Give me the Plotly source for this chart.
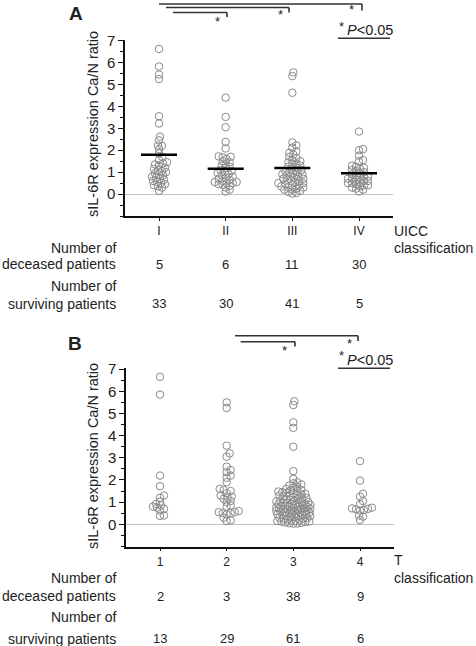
import plotly.graph_objects as go

W, H = 476, 646
FONT = "Liberation Sans, Arial, sans-serif"

# ---------------- data ----------------
uicc_labels = ["I", "II", "III", "IV"]
uicc_deceased = [5, 6, 11, 30]
uicc_surviving = [33, 30, 41, 5]
uicc_means = [1.79, 1.15, 1.19, 0.955]
uicc_I = [6.62, 5.82, 5.45, 5.25, 3.55, 3.22, 2.62, 2.45, 2.22, 2.2, 2.05, 1.85, 1.7, 1.55,
          1.45, 1.4, 1.35, 1.3, 1.2, 1.15, 1.1, 1.05, 1.0, 0.95, 0.9, 0.85, 0.8, 0.75, 0.7,
          0.65, 0.6, 0.55, 0.5, 0.45, 0.4, 0.35, 0.3, 0.15]
uicc_II = [4.4, 3.52, 3.05, 2.38, 2.08, 1.72, 1.7, 1.68, 1.6, 1.5, 1.45, 1.38, 1.3, 1.25,
           1.2, 1.1, 1.05, 1.0, 0.95, 0.9, 0.85, 0.8, 0.75, 0.7, 0.65, 0.6, 0.55, 0.55, 0.5,
           0.5, 0.45, 0.42, 0.38, 0.3, 0.2, 0.12]
uicc_III = [5.55, 5.38, 4.62, 2.35, 2.22, 2.12, 1.95, 1.88, 1.8, 1.7, 1.65, 1.55, 1.5, 1.45,
            1.4, 1.35, 1.3, 1.25, 1.2, 1.15, 1.1, 1.05, 1.0, 1.0, 0.95, 0.9, 0.9, 0.85, 0.8,
            0.8, 0.75, 0.7, 0.7, 0.65, 0.6, 0.6, 0.55, 0.5, 0.5, 0.45, 0.4, 0.4, 0.35, 0.3,
            0.3, 0.25, 0.2, 0.2, 0.15, 0.1, 0.05, 0.02]
uicc_IV = [2.85, 2.05, 2.0, 1.75, 1.55, 1.5, 1.3, 1.25, 1.2, 1.15, 1.1, 1.05, 1.0, 0.95,
           0.9, 0.85, 0.8, 0.8, 0.75, 0.7, 0.7, 0.65, 0.6, 0.6, 0.55, 0.5, 0.5, 0.45, 0.4,
           0.4, 0.35, 0.3, 0.25, 0.2, 0.12]

t_labels = ["1", "2", "3", "4"]
t_deceased = [2, 3, 38, 9]
t_surviving = [13, 29, 61, 6]
t_1 = [6.65, 5.85, 2.2, 1.72, 1.3, 1.2, 1.02, 0.92, 0.85, 0.8, 0.75, 0.7, 0.62, 0.4, 0.38]
t_2 = [5.5, 5.25, 3.55, 3.2, 3.05, 2.6, 2.45, 2.35, 2.2, 2.1, 1.9, 1.6, 1.55, 1.5, 1.4,
       1.3, 1.25, 1.2, 1.15, 1.05, 1.0, 0.85, 0.8, 0.6, 0.55, 0.55, 0.5, 0.5, 0.45, 0.3,
       0.18, 0.15]
t_3 = [5.55, 5.38, 4.6, 4.35, 3.5, 2.4, 2.05, 1.9, 1.85, 1.8, 1.75, 1.7,
       1.65, 1.6, 1.55, 1.52, 1.5, 1.48, 1.45, 1.42, 1.4, 1.38,
       1.35, 1.32, 1.3, 1.28, 1.25, 1.22, 1.2, 1.18, 1.15, 1.12,
       1.1, 1.08, 1.05, 1.03, 1.0, 0.98, 0.96, 0.95, 0.93, 0.9,
       0.88, 0.87, 0.85, 0.83, 0.82, 0.8, 0.78, 0.77, 0.75, 0.73,
       0.72, 0.7, 0.68, 0.67, 0.65, 0.63, 0.62, 0.6, 0.58, 0.57,
       0.55, 0.54, 0.52, 0.5, 0.49, 0.48, 0.46, 0.45, 0.44, 0.42,
       0.4, 0.38, 0.36, 0.35, 0.33, 0.3, 0.28, 0.26, 0.25, 0.23,
       0.2, 0.18, 0.16, 0.15, 0.13, 0.12, 0.1, 0.08, 0.07, 0.05,
       0.04, 0.03, 1.0, 0.9, 0.8, 0.7, 0.6]
t_4 = [2.85, 1.97, 1.38, 1.25, 1.05, 0.9, 0.75, 0.72, 0.7, 0.68, 0.65, 0.62, 0.4, 0.35, 0.2]

y_title = "sIL-6R expression Ca/N ratio"

# ---------------- layout helpers ----------------
XPX = 66.7   # px per category unit
YPX = 22.2   # px per y unit
MIN_D = 3.9  # px spacing in swarm (circles overlap as in the original)
MAX_OFF = 17  # px


def swarm(values):
    """Deterministic beeswarm offsets (category units) computed from the values."""
    order = sorted(range(len(values)), key=lambda i: values[i])
    placed = []
    offs = [0.0] * len(values)
    cands = [0]
    for k in range(1, MAX_OFF + 1):
        cands += [k, -k]
    for i in order:
        yp = values[i] * YPX
        best, bestd, fallback = None, -1, 0
        for c in cands:
            dmin = min([((c - a) ** 2 + (yp - b) ** 2) ** 0.5 for a, b in placed] or [99])
            if dmin >= MIN_D:
                best = c
                break
            if dmin > bestd:
                bestd, fallback = dmin, c
        if best is None:
            best = fallback
        placed.append((best, yp))
        offs[i] = best / XPX
    return offs


def px(x):
    return x / W


def py(y):
    return 1 - y / H


fig = go.Figure()
marker = dict(symbol="circle-open", size=7.5, color="#8a8a8a", line=dict(width=1, color="#8a8a8a"))

panels = [
    ("x", "y", [uicc_I, uicc_II, uicc_III, uicc_IV], uicc_means),
    ("x2", "y2", [t_1, t_2, t_3, t_4], None),
]
for xa, ya, groups, means in panels:
    for ci, vals in enumerate(groups):
        offs = swarm(vals)
        fig.add_trace(go.Scatter(
            x=[ci + 1 + o for o in offs], y=vals, mode="markers", marker=marker,
            xaxis=xa, yaxis=ya, showlegend=False, hoverinfo="y"))
    if means:
        for ci, m in enumerate(means):
            fig.add_trace(go.Scatter(
                x=[ci + 1 - 0.27, ci + 1 + 0.27], y=[m, m], mode="lines",
                line=dict(color="black", width=2.5), xaxis=xa, yaxis=ya,
                showlegend=False, hoverinfo="skip"))

axis_common_x = dict(range=[0.49, 4.51], showline=True, linecolor="#111", linewidth=1.5,
                     ticks="outside", ticklen=3, tickwidth=1, tickcolor="#111",
                     tickvals=[1, 2, 3, 4], showgrid=False, zeroline=False, automargin=False,
                     tickfont=dict(family=FONT, size=12, color="#222"), fixedrange=True)
axis_common_y = dict(range=[-1, 7.05], showline=True, linecolor="#111", linewidth=1.5,
                     ticks="outside", ticklen=5, tickwidth=1.2, tickcolor="#111",
                     tickvals=list(range(0, 8)), showgrid=False, automargin=False,
                     zeroline=True, zerolinecolor="#c4c4c4", zerolinewidth=1,
                     minor=dict(tickmode="linear", tick0=-1, dtick=0.5, ticks="outside",
                                ticklen=3, tickcolor="#111", showgrid=False),
                     tickfont=dict(family=FONT, size=15, color="#222"), fixedrange=True)

fig.update_layout(
    template="none",
    width=W, height=H, autosize=False,
    margin=dict(l=0, r=0, t=0, b=0, pad=0, autoexpand=False),
    paper_bgcolor="white", plot_bgcolor="white",
    font=dict(family=FONT, color="#222"),
    xaxis=dict(axis_common_x, domain=[px(125), px(393)], anchor="y", ticktext=uicc_labels),
    yaxis=dict(axis_common_y, domain=[py(216), py(39.5)], anchor="x"),
    xaxis2=dict(axis_common_x, domain=[px(126), px(394)], anchor="y2", ticktext=t_labels),
    yaxis2=dict(axis_common_y, domain=[py(546.5), py(368)], anchor="x2"),
)

ann = []
shapes = []


def text(x, y, s, size=14, xanchor="center", xref="paper", **kw):
    ann.append(dict(x=x, y=py(y), xref=xref, yref="paper", text=s, showarrow=False,
                    xanchor=xanchor, yanchor="middle",
                    font=dict(family=FONT, size=size, color="#222"), **kw))


def seg(x0, y0, x1, y1, xref, color="#333", width=1.6):
    shapes.append(dict(type="line", xref=xref, yref="paper", x0=x0, x1=x1,
                       y0=py(y0), y1=py(y1), line=dict(color=color, width=width)))


# panel letters
text(px(76), 13, "<b>A</b>", size=19)
text(px(75), 343, "<b>B</b>", size=19)

# y titles
text(px(93), 124, y_title, size=14.5, textangle=-90)
text(px(93), 456, y_title, size=14.5, textangle=-90)

# classification labels
text(px(392), 231, "UICC", xanchor="left")
text(px(392), 247.5, "classification", xanchor="left")
text(px(392), 560, "T", xanchor="left")
text(px(392), 577.5, "classification", xanchor="left")

# table rows
for (y1, y2, y3, y4, dec, sur, xr) in [(247.5, 264, 286, 303.5, uicc_deceased, uicc_surviving, "x"),
                                        (577.5, 596, 616.5, 638.5, t_deceased, t_surviving, "x2")]:
    text(px(118), y1, "Number of", xanchor="right")
    text(px(118), y2, "deceased patients", xanchor="right")
    text(px(118), y3, "Number of", xanchor="right")
    text(px(118), y4, "surviving patients", xanchor="right")
    for i in range(4):
        text(i + 1, y2, str(dec[i]), size=13, xref=xr)
        text(i + 1, y4, str(sur[i]), size=13, xref=xr)

# significance brackets (panel A)
for (xa, xb, yl, yt, xs, ys) in [(1.0, 4.045, 4, 10.5, 3.89, 10),
                                  (1.105, 2.95, 7.5, 12.5, 2.82, 14),
                                  (1.21, 2.02, 12.5, 17, 1.88, 21)]:
    seg(xa, yl, xb, yl, "x")
    seg(xb, yl, xb, yt, "x")
    text(xs, ys, "*", size=13, xref="x")
# panel B
for (xa, xb, yl, yt, xs, ys) in [(2.125, 3.97, 335.7, 341, 3.835, 343.5),
                                  (2.21, 3.025, 341.7, 346.5, 2.86, 350)]:
    seg(xa, yl, xb, yl, "x2")
    seg(xb, yl, xb, yt, "x2")
    text(xs, ys, "*", size=13, xref="x2")

# P<0.05 keys
for (yt, yu) in [(30, 38.3), (359.5, 368.3)]:
    text(px(341), yt - 4, "*", size=13)
    text(px(345), yt, "<i>P</i><0.05", size=14.5, xanchor="left")
    seg(px(338), yu, px(390), yu, "paper", width=1.5)

fig.update_layout(annotations=ann, shapes=shapes)
fig.write_html(
    "out.html",
    config={"displayModeBar": False},
    post_script=(
        "document.documentElement.style.margin='0';"
        "document.body.style.margin='0';document.body.style.padding='0';"
        "document.body.style.overflow='hidden';"
        "var d=document.getElementById('{plot_id}');"
        "d.style.position='absolute';d.style.left='0px';d.style.top='0px';"
    ),
)
